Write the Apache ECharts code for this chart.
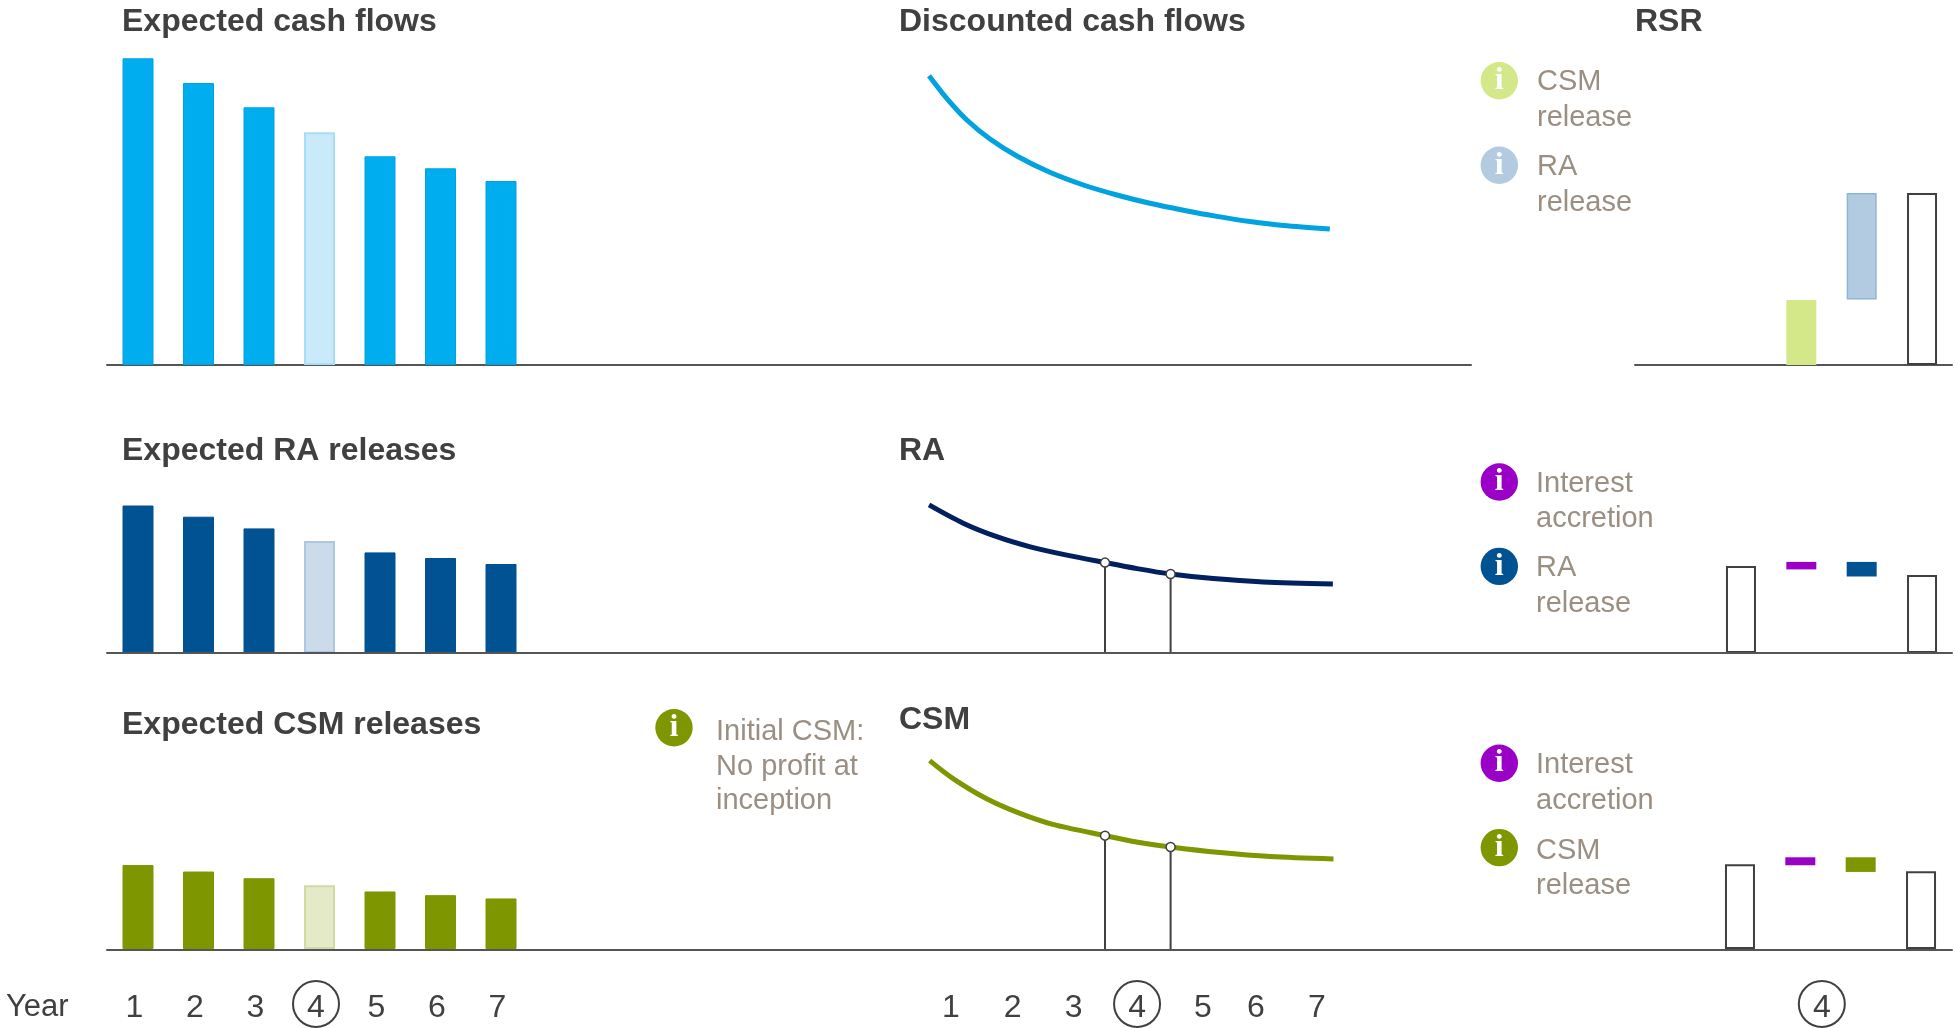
<!DOCTYPE html>
<html>
<head>
<meta charset="utf-8">
<title>RSR build-up</title>
<style>
html, body { margin: 0; padding: 0; background: #fff; }
#chart1 { width: 1955px; height: 1028px; }
</style>
<script src="https://cdn.jsdelivr.net/npm/echarts@6/dist/echarts.min.js"></script>
</head>
<body>
<div id="chart1"></div>
<script>
var years = ['1', '2', '3', '4', '5', '6', '7'];
var cashFlows = [306.7, 282, 257.7, 232.7, 208.7, 196.7, 184];
var raReleases = [147.5, 136.3, 124.6, 112, 100.6, 95, 89];
var csmReleases = [84.3, 77.7, 71, 64, 57.7, 54, 50.7];

var discountX = [0.14, 0.43, 0.76, 1.14, 1.58, 2.12, 2.67, 3.22, 3.76, 4.31, 4.86, 5.40, 5.95, 6.71];
var discountY = [289.3, 266.7, 245, 226, 209, 192.7, 180, 170, 161.7, 154.8, 148.6, 143.4, 139.4, 136];
var raX = [0.14, 0.70, 1.25, 1.80, 2.34, 3.025, 3.55, 4.10, 4.80, 5.62, 6.76];
var raY = [148.1, 129.8, 116.3, 106.1, 98.6, 90.4, 84.4, 79, 74.4, 71, 69];
var csmX = [0.15, 0.54, 1.085, 1.63, 2.17, 3.025, 3.54, 4.10, 4.91, 5.73, 6.77];
var csmY = [189, 170.7, 150.7, 136, 125, 113.7, 107.3, 102.3, 96.7, 92.7, 90.3];

var dropYears = [3.025, 4.10];
var raDropY = [90.4, 79];
var csmDropY = [113.7, 102.3];
var curveTickYears = [0.5, 1.51, 2.51, 3.55, 4.63, 5.5, 6.5];

var rsrTopBase = [null, 0, 65.5, 0];
var rsrTopValue = [null, 65, 106.5, 172];
var rsrRaBase = [0, 83.6, 76.5, 0];
var rsrRaValue = [87, 7.5, 14.6, 78];
var rsrCsmBase = [0, 84, 77.3, 0];
var rsrCsmValue = [85, 8, 14.7, 78];
var rsrTicks = ['', '4', '', ''];

var titles = ['Expected cash flows', 'Discounted cash flows', 'RSR', 'Expected RA releases', 'RA', 'Expected CSM releases', 'CSM'];
var notes = ['CSM\nrelease', 'RA\nrelease', 'Interest\naccretion', 'RA\nrelease', 'Interest\naccretion', 'CSM\nrelease', 'Initial CSM:\nNo profit at\ninception'];

var FONT = '"Liberation Sans", Arial, sans-serif';
var DARK = '#404040';
var GREY = '#9a8f82';
var BLUE = '#00aeef', NAVY = '#005293', OLIVE = '#7e9600', PURPLE = '#9a00c5';
var PALE_GREEN = '#d4e88a', PALE_BLUE = '#b2cbe0';

var YMAX = 320;
var baselines = [365, 653, 950];

var grid = [], xAxis = [], yAxis = [], series = [];

function addGrid(left, width, baseline, x) {
    grid.push({ left: left, width: width, top: baseline - YMAX, height: YMAX });
    x.gridIndex = grid.length - 1;
    xAxis.push(x);
    yAxis.push({ gridIndex: grid.length - 1, type: 'value', min: 0, max: YMAX, show: false });
    return grid.length - 1;
}

function hiddenLabels() {
    return { show: false };
}

// baselines live on their own axes since they run through several panels
function addBaseline(left, right, baseline, z) {
    addGrid(left, right - left, baseline, {
        type: 'value', min: 0, max: 1, z: z,
        axisLine: { show: true, onZero: false, lineStyle: { color: '#555555', width: 2 } },
        axisTick: { show: false }, axisLabel: hiddenLabels(), splitLine: { show: false }
    });
}

function yearLabels(padding) {
    return {
        show: true, interval: 0, margin: 36, padding: padding, hideOverlap: false,
        fontFamily: FONT, fontSize: 32, color: DARK,
        formatter: function(v) {
            if (v === '') return '';
            return v === '4' ? '{ring|4}' : '{num|' + v + '}';
        },
        rich: {
            ring: { width: 46, height: 38, padding: [8, 0, 0, 0], lineHeight: 38, align: 'center', fontFamily: FONT, fontSize: 32, color: DARK,
                borderColor: DARK, borderWidth: 2, borderRadius: 24 },
            num: { height: 38, padding: [8, 0, 0, 0], lineHeight: 38, fontFamily: FONT, fontSize: 32, color: DARK }
        }
    };
}

function addBars(values, baseline, color, edge, paleFill, paleEdge, labels) {
    var idx = addGrid(107.75, 423.5, baseline, {
        type: 'category', data: years,
        axisLine: { show: false }, axisTick: { show: false }, splitLine: { show: false },
        axisLabel: labels ? yearLabels([0, 7, 0, 0]) : hiddenLabels()
    });
    series.push({
        type: 'bar', xAxisIndex: idx, yAxisIndex: idx, barWidth: 31, silent: true,
        itemStyle: { color: color, borderColor: edge, borderWidth: 1 },
        data: values.map(function(v, i) {
            if (years[i] !== '4') return v;
            return { value: v, itemStyle: { color: paleFill, borderColor: paleEdge, borderWidth: 2 } };
        })
    });
}

function zip(xs, ys) {
    return xs.map(function(x, i) { return [x, ys[i]]; });
}

function addCurve(xs, ys, baseline, color, dropY, labels) {
    var label = hiddenLabels();
    if (labels) {
        label = yearLabels([0, 0, 0, 0]);
        var fmt = label.formatter;
        label.customValues = curveTickYears;
        label.formatter = function(v) { return fmt(years[curveTickYears.indexOf(v)]); };
    }
    var idx = addGrid(920.5, 427, baseline, {
        type: 'value', min: 0, max: 7,
        axisLine: { show: false }, axisTick: { show: false }, splitLine: { show: false },
        axisLabel: label
    });
    series.push({
        type: 'line', xAxisIndex: idx, yAxisIndex: idx, smooth: 0.3, showSymbol: false, silent: true,
        lineStyle: { color: color, width: 5, cap: 'butt' },
        data: zip(xs, ys), z: 3
    });
    if (!dropY) return;
    dropYears.forEach(function(x, i) {
        series.push({
            type: 'line', xAxisIndex: idx, yAxisIndex: idx, showSymbol: false, silent: true,
            lineStyle: { color: DARK, width: 2 },
            data: [[x, 0], [x, dropY[i]]], z: 2
        });
    });
    series.push({
        type: 'scatter', xAxisIndex: idx, yAxisIndex: idx, symbolSize: 9, silent: true,
        itemStyle: { color: '#fff', borderColor: DARK, borderWidth: 1.5, opacity: 1 },
        data: zip(dropYears, dropY), z: 4
    });
}

function addRsr(left, baseline, base, value, colors, labels) {
    var idx = addGrid(left, 241.4, baseline, {
        type: 'category', data: labels || ['a', 'b', 'c', 'd'],
        axisLine: { show: false }, axisTick: { show: false }, splitLine: { show: false },
        axisLabel: labels ? yearLabels([0, 0, 0, 43]) : hiddenLabels()
    });
    var stack = 'rsr' + idx;
    series.push({
        type: 'bar', xAxisIndex: idx, yAxisIndex: idx, stack: stack, barWidth: 30, silent: true,
        itemStyle: { color: 'transparent', borderWidth: 0 },
        data: base
    });
    series.push({
        type: 'bar', xAxisIndex: idx, yAxisIndex: idx, stack: stack, barWidth: 30, silent: true,
        data: value.map(function(v, i) { return { value: v, itemStyle: colors[i] }; })
    });
}

var outline = { color: '#fff', borderColor: DARK, borderWidth: 2 };

addBaseline(107, 1471, baselines[0], 0);
addBaseline(1635, 1952, baselines[0], 0);
addBaseline(107, 1952, baselines[1], 5);
addBaseline(107, 1952, baselines[2], 5);

addBars(cashFlows, baselines[0], BLUE, '#00a3e0', '#c9eaf9', '#a8ddf5', false);
addBars(raReleases, baselines[1], NAVY, NAVY, '#ccdbe9', '#aec7de', false);
addBars(csmReleases, baselines[2], OLIVE, OLIVE, '#e4e9c8', '#cfdaa5', true);

addCurve(discountX, discountY, baselines[0], '#00a3e0', null, false);
addCurve(raX, raY, baselines[1], '#00205f', raDropY, false);
addCurve(csmX, csmY, baselines[2], OLIVE, csmDropY, true);

addRsr(1710.8, baselines[0], rsrTopBase, rsrTopValue, [
    outline,
    { color: PALE_GREEN, borderWidth: 0 },
    { color: PALE_BLUE, borderColor: '#8fb4d6', borderWidth: 1.5 },
    outline
], null);
addRsr(1710.8, baselines[1], rsrRaBase, rsrRaValue, [
    outline,
    { color: PURPLE, borderWidth: 0 },
    { color: NAVY, borderWidth: 0 },
    outline
], null);
addRsr(1709.8, baselines[2], rsrCsmBase, rsrCsmValue, [
    outline,
    { color: PURPLE, borderWidth: 0 },
    { color: OLIVE, borderWidth: 0 },
    outline
], rsrTicks);

// text around the plots
var graphic = [];

function addTitle(text, x, y) {
    graphic.push({ type: 'text', x: x, y: y, style: {
        text: text, fill: DARK, fontFamily: FONT, fontSize: 32, fontWeight: 'bold', verticalAlign: 'middle'
    } });
}

function addNote(text, x, y, lineHeight, iconX, iconY, iconColor) {
    graphic.push({ type: 'circle', shape: { cx: iconX, cy: iconY, r: 18.7 }, style: { fill: iconColor } });
    graphic.push({ type: 'text', x: iconX, y: iconY, style: {
        text: 'i', fill: '#fff', fontFamily: '"Liberation Serif", serif', fontSize: 32, fontWeight: 'bold',
        align: 'center', verticalAlign: 'middle'
    } });
    graphic.push({ type: 'text', x: x, y: y, style: {
        text: text, fill: GREY, fontFamily: FONT, fontSize: 29, lineHeight: lineHeight
    } });
}

addTitle(titles[0], 122, 22.5);
addTitle(titles[1], 899, 22.5);
addTitle(titles[2], 1635, 22.5);
addTitle(titles[3], 122, 451.5);
addTitle(titles[4], 899, 451.5);
addTitle(titles[5], 122, 725.5);
addTitle(titles[6], 899, 720.5);

addNote(notes[0], 1537, 63.5, 36, 1499.3, 80.7, PALE_GREEN);
addNote(notes[1], 1537, 148.5, 36, 1499.3, 165.3, PALE_BLUE);
addNote(notes[2], 1536, 466, 35.5, 1499.3, 482, PURPLE);
addNote(notes[3], 1536, 550.5, 35.5, 1499.3, 566.4, NAVY);
addNote(notes[4], 1536, 747.5, 35.5, 1499.3, 763.2, PURPLE);
addNote(notes[5], 1536, 833, 35.5, 1499.3, 847.6, OLIVE);
addNote(notes[6], 716, 714.5, 34.7, 674, 727.7, OLIVE);

graphic.push({ type: 'text', x: 6, y: 1007, style: {
    text: 'Year', fill: DARK, fontFamily: FONT, fontSize: 31, verticalAlign: 'middle'
} });

var myChart = echarts.init(document.getElementById('chart1'));
myChart.setOption({
    backgroundColor: '#fff',
    animation: false,
    grid: grid,
    xAxis: xAxis,
    yAxis: yAxis,
    series: series,
    graphic: graphic
});
</script>
</body>
</html>
